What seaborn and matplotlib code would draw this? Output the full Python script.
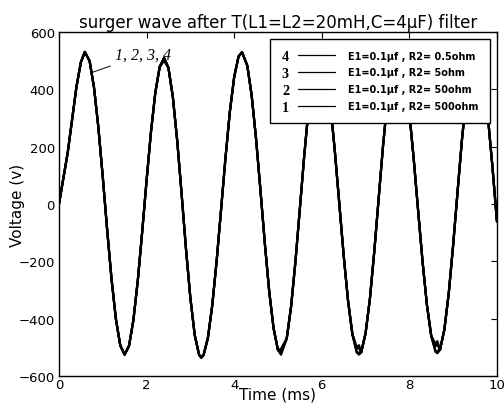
"""
plot.py
Surge wave after a T filter (L1=L2=20mH, C=4uF), four damping resistors.
"""
import matplotlib
matplotlib.use("Agg")
import pandas as pd
import matplotlib.pyplot as plt
import seaborn as sns
from matplotlib.legend_handler import HandlerBase
from matplotlib.lines import Line2D
from matplotlib.text import Text

# time axis (ms)
time_ms = [0.0, 0.1, 0.2, 0.3, 0.4, 0.5, 0.59, 0.7, 0.8, 0.9, 1.0, 1.1, 1.2, 1.3,
           1.4, 1.5, 1.6, 1.7, 1.8, 1.9, 2.0, 2.1, 2.2, 2.3, 2.4, 2.5, 2.6, 2.7,
           2.8, 2.9, 3.0, 3.1, 3.2, 3.25, 3.3, 3.4, 3.5, 3.6, 3.7, 3.8, 3.9, 4.0,
           4.1, 4.18, 4.3, 4.4, 4.5, 4.6, 4.7, 4.8, 4.9, 5.0, 5.07, 5.2, 5.3, 5.4,
           5.5, 5.6, 5.7, 5.8, 5.9, 5.95, 6.0, 6.1, 6.2, 6.3, 6.4, 6.5, 6.6, 6.7,
           6.8, 6.85, 6.9, 7.0, 7.1, 7.2, 7.3, 7.4, 7.5, 7.6, 7.7, 7.73, 7.8, 7.9,
           8.0, 8.1, 8.2, 8.3, 8.4, 8.5, 8.6, 8.64, 8.7, 8.8, 8.9, 9.0, 9.1, 9.2,
           9.3, 9.4, 9.5, 9.52, 9.6, 9.7, 9.8, 9.9, 10.0]

# curve 1 (R2 = 500 ohm), voltage in V
voltage_1 = [0, 90, 180, 295, 410, 495, 531, 499, 407, 267, 95, -89, -261, -401,
             -493, -525, -494, -404, -266, -97, 82, 251, 389, 479, 510, 475, 374, 221,
             36, -156, -327, -457, -526, -535, -527, -467, -353, -198, -21, 158, 320, 443,
             515, 530, 483, 379, 228, 49, -136, -304, -433, -509, -525, -469, -357, -199,
             -16, 169, 334, 456, 522, 530, 522, 459, 342, 183, 3, -178, -337, -454,
             -517, -525, -517, -451, -329, -164, 21, 205, 362, 474, 527, 530, 515, 442,
             318, 157, -22, -198, -350, -460, -515, -520, -508, -437, -310, -143, 42, 223,
             376, 483, 528, 530, 509, 428, 294, 125, -60]

# curves 2-4 follow curve 1 except at a few troughs / peaks
diff_2 = {5.07: -518, 6.85: -518, 8.64: -512}
diff_3 = {5.07: -508, 6.8: -505, 6.85: -500, 8.6: -495, 8.64: -490}
diff_4 = {2.4: 500, 5.07: -505, 6.8: -500, 6.85: -492, 8.6: -488, 8.64: -478}

series_names = ["1", "2", "3", "4"]
legend_labels = {"4": "E1=0.1\u03bcf , R2= 0.5ohm",
                 "3": "E1=0.1\u03bcf , R2= 5ohm",
                 "2": "E1=0.1\u03bcf , R2= 50ohm",
                 "1": "E1=0.1\u03bcf , R2= 500ohm"}

assert len(time_ms) == len(voltage_1)

frames = []
for name, diff in zip(series_names, [{}, diff_2, diff_3, diff_4]):
    v = [diff.get(t, v1) for t, v1 in zip(time_ms, voltage_1)]
    frames.append(pd.DataFrame({"time": time_ms, "voltage": v, "series": name}))
df = pd.concat(frames, ignore_index=True)

sns.set_style("white")
plt.rcParams["font.family"] = ["DejaVu Sans"]
plt.rcParams["xtick.direction"] = "in"
plt.rcParams["ytick.direction"] = "in"
for key in ["text.color", "axes.labelcolor", "xtick.color", "ytick.color",
            "axes.edgecolor"]:
    plt.rcParams[key] = "black"


class NumberedLine(HandlerBase):
    """legend handle: bold number followed by a short line"""

    def __init__(self, number):
        super().__init__()
        self.number = number

    def create_artists(self, legend, orig_handle, xdescent, ydescent,
                       width, height, fontsize, trans):
        y = -ydescent + height / 2
        num = Text(-xdescent, y - 1, self.number, ha="left", va="center",
                   fontsize=fontsize * 1.45, fontweight="bold",
                   family="Liberation Serif", color="black", transform=trans)
        line = Line2D([-xdescent + width * 0.3, -xdescent + width], [y, y],
                      color="black", lw=0.9, transform=trans)
        return [num, line]


fig = plt.figure(figsize=(5.04, 4.14), dpi=100)
ax = fig.add_axes([0.117, 0.089, 0.869, 0.831])

sns.lineplot(data=df, x="time", y="voltage", hue="series",
             palette=["black"] * 4, linewidth=1.6, legend=False, ax=ax,
             sort=False, estimator=None)

ax.set_xlim(0, 10)
ax.set_ylim(-600, 600)
ax.set_xticks([0, 2, 4, 6, 8, 10])
ax.set_yticks([-600, -400, -200, 0, 200, 400, 600])
ax.tick_params(axis="both", labelsize=9.5, length=4, width=0.8,
               top=True, right=True)
ax.tick_params(axis="x", pad=1)
ax.tick_params(axis="y", pad=3)
for sp in ax.spines.values():
    sp.set_linewidth(1.0)
    sp.set_color("black")

ax.set_title("surger wave after T(L1=L2=20mH,C=4\u03bcF) filter",
             fontsize=12, pad=4)
ax.set_xlabel("Time (ms)", fontsize=11, labelpad=-3)
ax.set_ylabel("Voltage (v)", fontsize=11, labelpad=-5)

ax.annotate("1, 2, 3, 4", xy=(0.77, 460), xytext=(1.28, 522),
            fontsize=11.5, style="italic", family="Liberation Serif",
            ha="left", va="center",
            arrowprops=dict(arrowstyle="-", lw=0.7, color="black",
                            shrinkA=1, shrinkB=0))

order = ["4", "3", "2", "1"]
handles = [Line2D([], [], color="black") for _ in order]
hmap = {h: NumberedLine(n) for h, n in zip(handles, order)}
leg = ax.legend(handles, [legend_labels[n] for n in order], handler_map=hmap,
                loc="upper right", bbox_to_anchor=(0.984, 0.98),
                borderaxespad=0, handlelength=5.45, handletextpad=1.34,
                labelspacing=0.7, borderpad=1.2, frameon=True, fancybox=False,
                prop={"weight": "bold", "size": 7, "family": "DejaVu Sans"})
leg.get_frame().set_edgecolor("black")
leg.get_frame().set_linewidth(1.0)
leg.get_frame().set_alpha(1)

fig.savefig("out.png", dpi=100)
